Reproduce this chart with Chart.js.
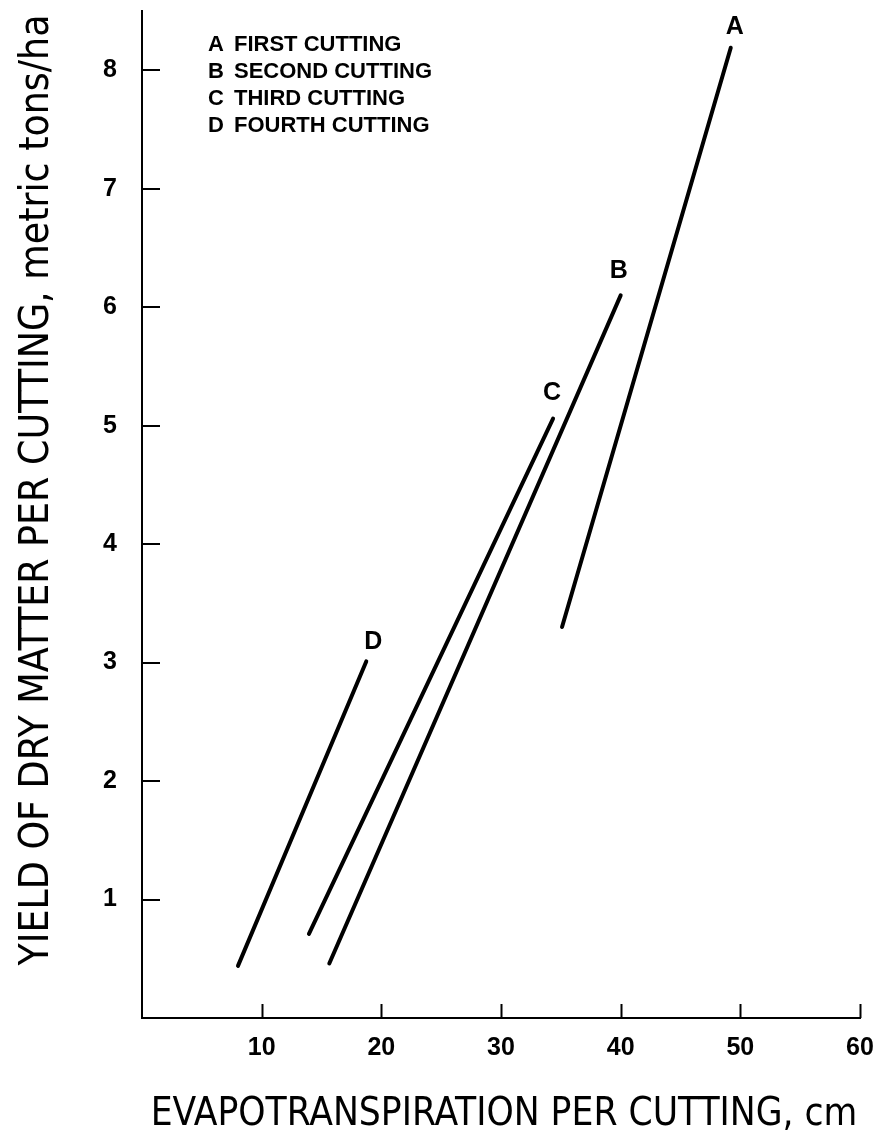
<!DOCTYPE html>
<html>
<head>
<meta charset="utf-8">
<script src="https://cdn.jsdelivr.net/npm/chart.js@4.4.1/dist/chart.umd.min.js"></script>
<style>
html,body{margin:0;padding:0;background:#fff;}
#wrap{width:881px;height:1139px;position:relative;}
</style>
</head>
<body>
<div id="wrap"><canvas id="c"></canvas></div>
<script>
// ---- data ----
const seriesLetters = ['A', 'B', 'C', 'D'];
const seriesNames = ['FIRST CUTTING', 'SECOND CUTTING', 'THIRD CUTTING', 'FOURTH CUTTING'];
const etA = [35.1, 49.2];   const yieldA = [3.30, 8.19];
const etB = [15.65, 40.0];  const yieldB = [0.46, 6.10];
const etC = [13.95, 34.35]; const yieldC = [0.71, 5.06];
const etD = [8.02, 18.74];  const yieldD = [0.44, 3.01];
const xTicks = [10, 20, 30, 40, 50, 60];
const yTicks = [1, 2, 3, 4, 5, 6, 7, 8];
const xTitle = 'EVAPOTRANSPIRATION PER CUTTING, cm';
const yTitle = 'YIELD OF DRY MATTER PER CUTTING, metric tons/ha';

const seriesX = [etA, etB, etC, etD];
const seriesY = [yieldA, yieldB, yieldC, yieldD];

const boldFont = 'Liberation Sans, Arial, Helvetica, sans-serif';
const condFont = '"DejaVu Sans Condensed", "Liberation Sans Narrow", "DejaVu Sans", sans-serif';

const datasets = seriesLetters.map((L, i) => ({
  label: L,
  data: seriesX[i].map((x, j) => ({ x: x, y: seriesY[i][j] })),
  showLine: true,
  borderColor: '#000',
  backgroundColor: '#000',
  borderWidth: 4,
  borderCapStyle: 'round',
  pointRadius: 0,
  pointHoverRadius: 0
}));

// inward tick marks
const inwardTicks = {
  id: 'inwardTicks',
  afterDraw(chart) {
    const { ctx, chartArea: a, scales: { x, y } } = chart;
    ctx.save();
    ctx.strokeStyle = '#000';
    ctx.lineWidth = 2;
    x.ticks.forEach(t => {
      const px = Math.round(x.getPixelForValue(t.value)) + 0.5;
      ctx.beginPath(); ctx.moveTo(px, a.bottom); ctx.lineTo(px, a.bottom - 14); ctx.stroke();
    });
    y.ticks.forEach(t => {
      const py = Math.round(y.getPixelForValue(t.value));
      ctx.beginPath(); ctx.moveTo(a.left, py); ctx.lineTo(a.left + 18, py); ctx.stroke();
    });
    ctx.restore();
  }
};

// axis titles
const axisTitles = {
  id: 'axisTitles',
  afterDraw(chart) {
    const { ctx, chartArea: a } = chart;
    ctx.save();
    ctx.fillStyle = '#000';
    ctx.textAlign = 'center';
    ctx.textBaseline = 'alphabetic';
    ctx.font = '38.5px ' + condFont;
    ctx.fillText(xTitle, (a.left + a.right) / 2 + 3, 1125);
    ctx.font = '40.5px ' + condFont;
    ctx.translate(48, 490);
    ctx.rotate(-Math.PI / 2);
    ctx.fillText(yTitle, 0, 0);
    ctx.restore();
  }
};

// letters at the upper end of each line
const lineLetters = {
  id: 'lineLetters',
  afterDatasetsDraw(chart) {
    const { ctx } = chart;
    const offs = [[4, -21], [-2, -24], [-1, -25], [7, -19]];
    ctx.save();
    ctx.fillStyle = '#000';
    ctx.font = 'bold 25px ' + boldFont;
    ctx.textAlign = 'center';
    ctx.textBaseline = 'middle';
    chart.data.datasets.forEach((ds, i) => {
      const meta = chart.getDatasetMeta(i);
      const pt = meta.data[meta.data.length - 1];
      ctx.fillText(ds.label, pt.x + offs[i][0], pt.y + offs[i][1]);
    });
    ctx.restore();
  }
};

// key text in the upper left
const keyText = {
  id: 'keyText',
  afterDraw(chart) {
    const { ctx } = chart;
    const rows = [45, 72, 99, 126];
    ctx.save();
    ctx.fillStyle = '#000';
    ctx.font = 'bold 22px ' + boldFont;
    ctx.textAlign = 'left';
    ctx.textBaseline = 'middle';
    seriesLetters.forEach((L, i) => {
      ctx.fillText(L, 208, rows[i]);
      ctx.fillText(seriesNames[i], 234, rows[i]);
    });
    ctx.restore();
  }
};

new Chart(document.getElementById('c'), {
  type: 'scatter',
  data: { datasets: datasets },
  options: {
    responsive: true,
    maintainAspectRatio: false,
    animation: false,
    events: [],
    layout: { padding: { left: 0, right: 21, top: 11, bottom: 0 } },
    plugins: { legend: { display: false }, tooltip: { enabled: false }, title: { display: false } },
    scales: {
      x: {
        type: 'linear', min: 0, max: 60,
        grid: { display: false, drawTicks: false },
        border: { display: true, color: '#000', width: 2 },
        afterBuildTicks: s => { s.ticks = xTicks.map(v => ({ value: v })); },
        afterFit: s => { s.height = 121; s.paddingLeft = 0; s.paddingRight = 0; },
        ticks: {
          color: '#000', padding: 15, maxRotation: 0, autoSkip: false,
          font: { family: boldFont, size: 25, weight: 'bold' },
          callback: v => String(v)
        }
      },
      y: {
        type: 'linear', min: 0, max: 8.5,
        grid: { display: false, drawTicks: false },
        border: { display: true, color: '#000', width: 2 },
        afterBuildTicks: s => { s.ticks = yTicks.map(v => ({ value: v })); },
        afterFit: s => { s.width = 142; s.paddingTop = 0; s.paddingBottom = 0; },
        ticks: {
          color: '#000', padding: 25, autoSkip: false,
          font: { family: boldFont, size: 25, weight: 'bold' },
          callback: v => String(v)
        }
      }
    }
  },
  plugins: [inwardTicks, axisTitles, lineLetters, keyText]
});
</script>
</body>
</html>
